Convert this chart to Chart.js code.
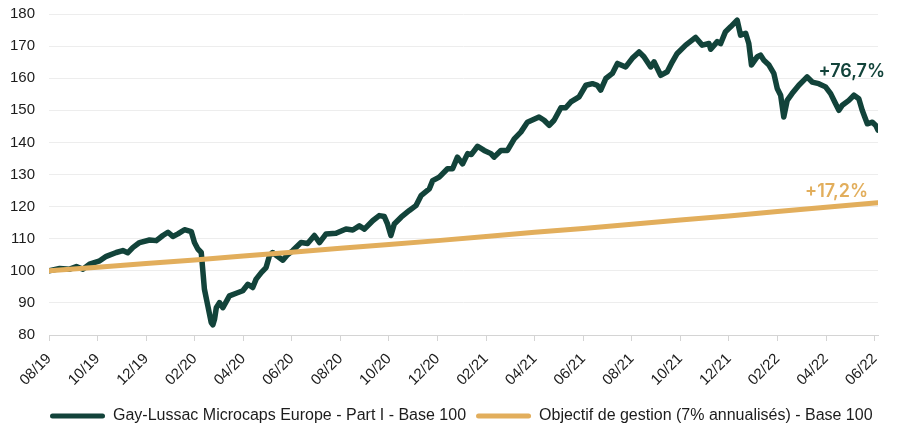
<!DOCTYPE html>
<html>
<head>
<meta charset="utf-8">
<script src="https://cdn.jsdelivr.net/npm/chart.js@4.4.1/dist/chart.umd.min.js"></script>
<style>
    html, body { margin: 0; padding: 0; background: #fff; }
</style>
</head>
<body>
<canvas id="perfChart" width="897" height="424"></canvas>
<script>
// Series data (x = months since 08/19)
const tickLabels = ['08/19', '10/19', '12/19', '02/20', '04/20', '06/20', '08/20', '10/20', '12/20',
    '02/21', '04/21', '06/21', '08/21', '10/21', '12/21', '02/22', '04/22', '06/22'];
const tickMonths = [0, 2, 4, 6, 8, 10, 12, 14, 16, 18, 20, 22, 24, 26, 28, 30, 32, 34];

const fundMonths = [
    0, 0.44, 0.85, 1.13, 1.40, 1.67, 2.09, 2.36, 2.77, 3.04,
    3.24, 3.46, 3.73, 4.14, 4.42, 4.69, 4.90, 5.10, 5.31, 5.58,
    5.86, 5.99, 6.13, 6.27, 6.33, 6.40, 6.54, 6.68, 6.75, 6.82,
    6.89, 7.02, 7.16, 7.43, 7.71, 7.98, 8.19, 8.39, 8.53, 8.75,
    8.94, 9.08, 9.21, 9.41, 9.63, 9.82, 10.04, 10.38, 10.65, 10.93,
    11.14, 11.41, 11.82, 12.23, 12.51, 12.78, 12.99, 13.33, 13.60, 13.81,
    13.94, 14.08, 14.22, 14.50, 14.84, 15.11, 15.32, 15.66, 15.80, 16.07,
    16.41, 16.62, 16.82, 17.03, 17.24, 17.39, 17.65, 17.92, 18.20, 18.33,
    18.61, 18.88, 19.16, 19.43, 19.70, 20.18, 20.39, 20.60, 20.80, 21.08,
    21.28, 21.49, 21.83, 22.11, 22.38, 22.58, 22.72, 22.93, 23.20, 23.41,
    23.75, 24.02, 24.30, 24.50, 24.78, 24.92, 25.19, 25.46, 25.67, 25.87,
    26.22, 26.63, 26.90, 27.18, 27.25, 27.52, 27.66, 27.86, 28.07, 28.34,
    28.48, 28.69, 28.82, 28.93, 29.17, 29.30, 29.44, 29.65, 29.85, 29.99,
    30.13, 30.26, 30.40, 30.60, 30.88, 31.09, 31.22, 31.43, 31.70, 31.98,
    32.19, 32.39, 32.53, 32.67, 32.94, 33.15, 33.35, 33.49, 33.70, 33.91,
    34.05, 34.14
];
const fundValues = [
    100, 100.7, 100.5, 101.3, 100.5, 102.1, 103.1, 104.5, 105.7, 106.3,
    105.6, 107.3, 108.8, 109.6, 109.4, 111, 112, 110.7, 111.5, 112.8,
    112.2, 108.8, 106.8, 105.7, 100.5, 94.3, 89.1, 83.9, 83.2, 85,
    88.5, 90.1, 88.5, 92.2, 93, 93.8, 95.8, 94.8, 97.4, 99.5,
    101, 104.7, 105.7, 104.5, 103.3, 105, 106.3, 108.8, 108.5, 111,
    108.8, 111.5, 111.7, 113, 112.7, 114, 113, 115.6, 117.2, 116.9,
    114.6, 111, 114.6, 116.7, 118.8, 120.3, 123.4, 125.5, 128.1, 129.2,
    131.8, 131.8, 135.4, 133.3, 136.5, 136.2, 138.8, 137.5, 136.5, 135.4,
    137.5, 137.5, 141.1, 143.2, 146.3, 147.9, 146.9, 145.3, 146.9, 150.8,
    150.8, 152.6, 154.2, 157.8, 158.3, 157.8, 156.3, 159.9, 161.5, 164.6,
    163.5, 166.2, 168.2, 166.7, 163.5, 165.1, 160.9, 162, 165.1, 167.7,
    170.3, 172.7, 170.3, 170.8, 169, 171.4, 170.8, 174.5, 176, 178.1,
    173.4, 174, 170.8, 164.1, 166.7, 167.2, 165.6, 164.1, 161.5, 156.8,
    154.7, 147.9, 153.1, 155.2, 157.8, 159.4, 160.4, 158.8, 158.3, 157.3,
    155.2, 152.1, 150, 151.6, 153.1, 154.7, 153.6, 150, 145.8, 146.3,
    145.3, 143.8
];

const targetMonths = [0, 2, 4, 6, 8, 10, 12, 14, 16, 18, 20, 22, 24, 26, 28, 30, 32, 34, 34.14];
const targetValues = [100, 101.1, 102.3, 103.4, 104.6, 105.8, 107.0, 108.2, 109.4, 110.7,
    112.0, 113.2, 114.5, 115.8, 117.1, 118.5, 119.8, 121.1, 121.2];

const seriesNames = [
    'Gay-Lussac Microcaps Europe - Part I - Base 100',
    'Objectif de gestion (7% annualisés) - Base 100'
];
const endTexts = ['+76,7%', '+17,2%'];

const GREEN = '#12433a';
const GOLD = '#e2ae5c';
const TEXT = '#1c1c1c';
const FONT = '"Liberation Sans", Arial, sans-serif';

// Performance labels drawn at the right end of each line
const endLabelsPlugin = {
    id: 'endLabels',
    afterDatasetsDraw(chart) {
        const { ctx, chartArea, scales } = chart;
        ctx.save();
        ctx.font = '600 18px Inter';
        ctx.textAlign = 'right';
        ctx.textBaseline = 'middle';
        ctx.fillStyle = GREEN;
        ctx.fillText(endTexts[0], chartArea.right + 7, scales.y.getPixelForValue(162));
        ctx.fillStyle = GOLD;
        ctx.fillText(endTexts[1], chartArea.right - 10, scales.y.getPixelForValue(124.8));
        ctx.restore();
    }
};

// Move the legend row a little lower and start it under the plot's left edge
const legendShiftPlugin = {
    id: 'legendShift',
    afterLayout(chart) {
        const lg = chart.legend;
        if (!lg || !lg.lineWidths) return;
        const pad = lg.options.labels.padding;
        const start = (lg.left + pad + lg.right - lg.lineWidths[0]) / 2;
        const dx = 50 - start;
        lg.left += dx;
        lg.right += dx;
        lg.top += 10;
        lg.bottom += 10;
    }
};

const ctx = document.getElementById('perfChart');
new Chart(ctx, {
    type: 'line',
    data: {
        datasets: [
            {
                label: seriesNames[0],
                data: fundMonths.map((m, i) => ({ x: m, y: fundValues[i] })),
                borderColor: GREEN,
                backgroundColor: GREEN,
                borderWidth: 5.5,
                borderJoinStyle: 'round',
                borderCapStyle: 'round',
                pointRadius: 0,
                tension: 0,
                order: 1
            },
            {
                label: seriesNames[1],
                data: targetMonths.map((m, i) => ({ x: m, y: targetValues[i] })),
                borderColor: GOLD,
                backgroundColor: GOLD,
                borderWidth: 5,
                borderCapStyle: 'round',
                pointRadius: 0,
                tension: 0,
                order: 0
            }
        ]
    },
    options: {
        responsive: false,
        animation: false,
        layout: {
            padding: { top: 0, right: 19, left: 0, bottom: 0 }
        },
        plugins: {
            legend: {
                display: true,
                position: 'bottom',
                labels: {
                    boxWidth: 55,
                    boxHeight: 5,
                    padding: 10,
                    color: TEXT,
                    font: { family: FONT, size: 16 },
                    generateLabels: function(chart) {
                        return chart.data.datasets.map((ds, i) => ({
                            text: ds.label,
                            fillStyle: ds.borderColor,
                            strokeStyle: ds.borderColor,
                            lineWidth: 0,
                            borderRadius: 2.5,
                            fontColor: TEXT,
                            datasetIndex: i
                        }));
                    },
                    useBorderRadius: true,
                    borderRadius: 2.5
                }
            },
            tooltip: { enabled: false }
        },
        scales: {
            x: {
                type: 'linear',
                min: 0,
                max: fundMonths[fundMonths.length - 1],
                afterBuildTicks: function(axis) {
                    axis.ticks = tickMonths.map(v => ({ value: v }));
                },
                afterFit: function(axis) {
                    axis.height = 53;
                    axis.paddingLeft = 0;
                    axis.paddingRight = 0;
                },
                ticks: {
                    autoSkip: false,
                    minRotation: 45,
                    maxRotation: 45,
                    padding: 9,
                    color: TEXT,
                    font: { family: FONT, size: 15 },
                    callback: function(value) {
                        const idx = tickMonths.indexOf(value);
                        return idx >= 0 ? tickLabels[idx] : '';
                    }
                },
                grid: {
                    drawOnChartArea: false,
                    drawTicks: true,
                    tickLength: 6,
                    color: '#d4d4d4'
                },
                border: { color: '#d4d4d4', width: 1 }
            },
            y: {
                min: 80,
                max: 180,
                afterFit: function(axis) {
                    axis.width = 49;
                    axis.paddingTop = 14;
                },
                ticks: {
                    stepSize: 10,
                    padding: 14,
                    color: TEXT,
                    font: { family: FONT, size: 15 }
                },
                grid: {
                    color: '#ededed',
                    lineWidth: 1,
                    drawTicks: false
                },
                border: { display: false }
            }
        }
    },
    plugins: [endLabelsPlugin, legendShiftPlugin]
});
</script>
</body>
</html>
